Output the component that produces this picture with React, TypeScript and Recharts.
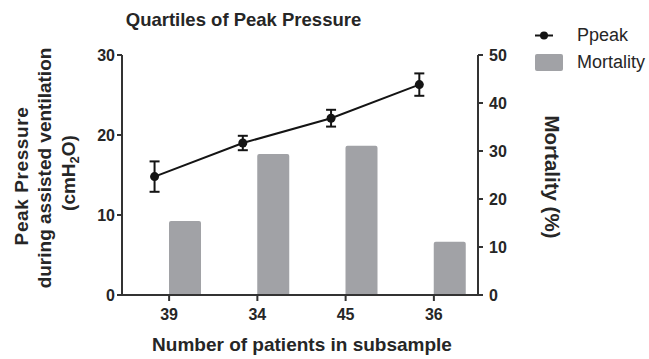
import React from 'react'
import { ComposedChart, Bar, Line, ErrorBar, XAxis, YAxis, Legend } from 'recharts'

// subsample sizes per quartile of peak pressure
const subsamples = ['39', '34', '45', '36']
// mean peak pressure (cmH2O) and its SEM
const ppeak = [14.8, 19.0, 22.1, 26.3]
const ppeakSem = [1.9, 0.9, 1.05, 1.4]
// mortality per subsample (%)
const mortality = [15.4, 29.4, 31.1, 11.1]

const pressureTicks = [0, 10, 20, 30]
const mortalityTicks = [0, 10, 20, 30, 40, 50]

const data = subsamples.map((n, i) => ({
  n,
  idx: i,
  ppeak: ppeak[i],
  sem: ppeakSem[i],
  mortality: mortality[i],
}))

const FONT = '"Liberation Sans", Arial, Helvetica, sans-serif'
const INK = '#262626'
const AXIS = '#333333'
const BAR = '#a1a2a6'
const DOT = '#141414'
// points sit a bit left of the tick, bars to the right of it
const SHIFT = 0.165

const tickStyle = { fill: INK, fontSize: 16, fontWeight: 'bold', fontFamily: FONT }

function LegendBox() {
  const row = { display: 'flex', alignItems: 'center', height: 27 }
  return (
    <div style={{ fontFamily: FONT, fontSize: 18, color: INK, lineHeight: '27px' }}>
      <div style={row}>
        <svg width={42} height={27}>
          <line x1={0} x2={18} y1={13.5} y2={13.5} stroke={DOT} strokeWidth={2} />
          <circle cx={9} cy={13.5} r={4} fill={DOT} />
        </svg>
        <span>Ppeak</span>
      </div>
      <div style={row}>
        <svg width={42} height={27}>
          <rect x={0} y={5} width={28} height={17} rx={2} fill={BAR} />
        </svg>
        <span>Mortality</span>
      </div>
    </div>
  )
}

const bold = { fontFamily: FONT, fontWeight: 'bold', fill: INK }

function Titles() {
  return (
    <g>
      <text {...bold} x={243.5} y={25.5} fontSize={18.5} textAnchor='middle'>
        Quartiles of Peak Pressure
      </text>
      <text {...bold} x={302} y={351} fontSize={19} textAnchor='middle'>
        Number of patients in subsample
      </text>
    </g>
  )
}

function PressureTitle() {
  return (
    <text {...bold} fontSize={19} textAnchor='middle' transform='rotate(-90)'>
      <tspan x={-176} y={28} letterSpacing={0.6}>Peak Pressure</tspan>
      <tspan x={-168} y={51}>during assisted ventilation</tspan>
      <tspan x={-173} y={75}>(cmH</tspan>
      <tspan dy={4} fontSize={13}>2</tspan>
      <tspan dy={-4}>O)</tspan>
    </text>
  )
}

function MortalityTitle() {
  return (
    <text {...bold} fontSize={20.5} textAnchor='middle' transform='rotate(90)' x={177} y={-545}>
      Mortality (%)
    </text>
  )
}

export default function App(): JSX.Element {
  return (
    <div style={{ position: 'absolute', left: 0, top: 0, width: 649, height: 359, background: '#fff' }}>
      <ComposedChart
        width={649}
        height={359}
        data={data}
        margin={{ top: 55, right: 0, bottom: 0, left: 0 }}
        barGap={0}
      >
        <XAxis
          dataKey='n'
          height={64}
          padding={{ left: 3, right: 0 }}
          interval={0}
          tick={tickStyle}
          tickSize={6}
          tickMargin={8}
          axisLine={{ stroke: AXIS, strokeWidth: 2 }}
          tickLine={{ stroke: AXIS, strokeWidth: 2 }}
          label={{ content: () => <Titles /> }}
        />
        <XAxis
          xAxisId='pos'
          type='number'
          dataKey='idx'
          domain={[-0.5 + SHIFT, 3.5 + SHIFT]}
          padding={{ left: 3, right: 0 }}
          allowDataOverflow
          hide
        />
        <YAxis
          yAxisId='p'
          width={122}
          domain={[0, 30]}
          ticks={pressureTicks}
          tick={tickStyle}
          tickSize={5}
          tickMargin={2}
          axisLine={{ stroke: AXIS, strokeWidth: 2 }}
          tickLine={{ stroke: AXIS, strokeWidth: 2 }}
          label={{ content: () => <PressureTitle /> }}
        />
        <YAxis
          yAxisId='m'
          orientation='right'
          width={171}
          domain={[0, 50]}
          ticks={mortalityTicks}
          tick={tickStyle}
          tickSize={5}
          tickMargin={6}
          axisLine={{ stroke: AXIS, strokeWidth: 2 }}
          tickLine={{ stroke: AXIS, strokeWidth: 2 }}
          label={{ content: () => <MortalityTitle /> }}
        />
        <Legend
          layout='horizontal'
          verticalAlign='middle'
          align='center'
          content={() => <LegendBox />}
          wrapperStyle={{ left: 535, top: 21.5, width: 'auto' }}
        />
        {/* empty spacer keeps the mortality bar right of the tick */}
        <Bar yAxisId='m' dataKey='spacer' barSize={32} fill='none' legendType='none' isAnimationActive={false} />
        <Bar
          yAxisId='m'
          dataKey='mortality'
          name='Mortality'
          barSize={32}
          fill={BAR}
          radius={[2, 2, 0, 0]}
          isAnimationActive={false}
        />
        <Line
          xAxisId='pos'
          yAxisId='p'
          dataKey='ppeak'
          name='Ppeak'
          stroke={DOT}
          strokeWidth={2}
          dot={{ r: 4.5, fill: DOT, stroke: DOT, strokeWidth: 0 }}
          activeDot={false}
          isAnimationActive={false}
        >
          <ErrorBar dataKey='sem' width={5} stroke={DOT} strokeWidth={2} direction='y' />
        </Line>
      </ComposedChart>
    </div>
  )
}
